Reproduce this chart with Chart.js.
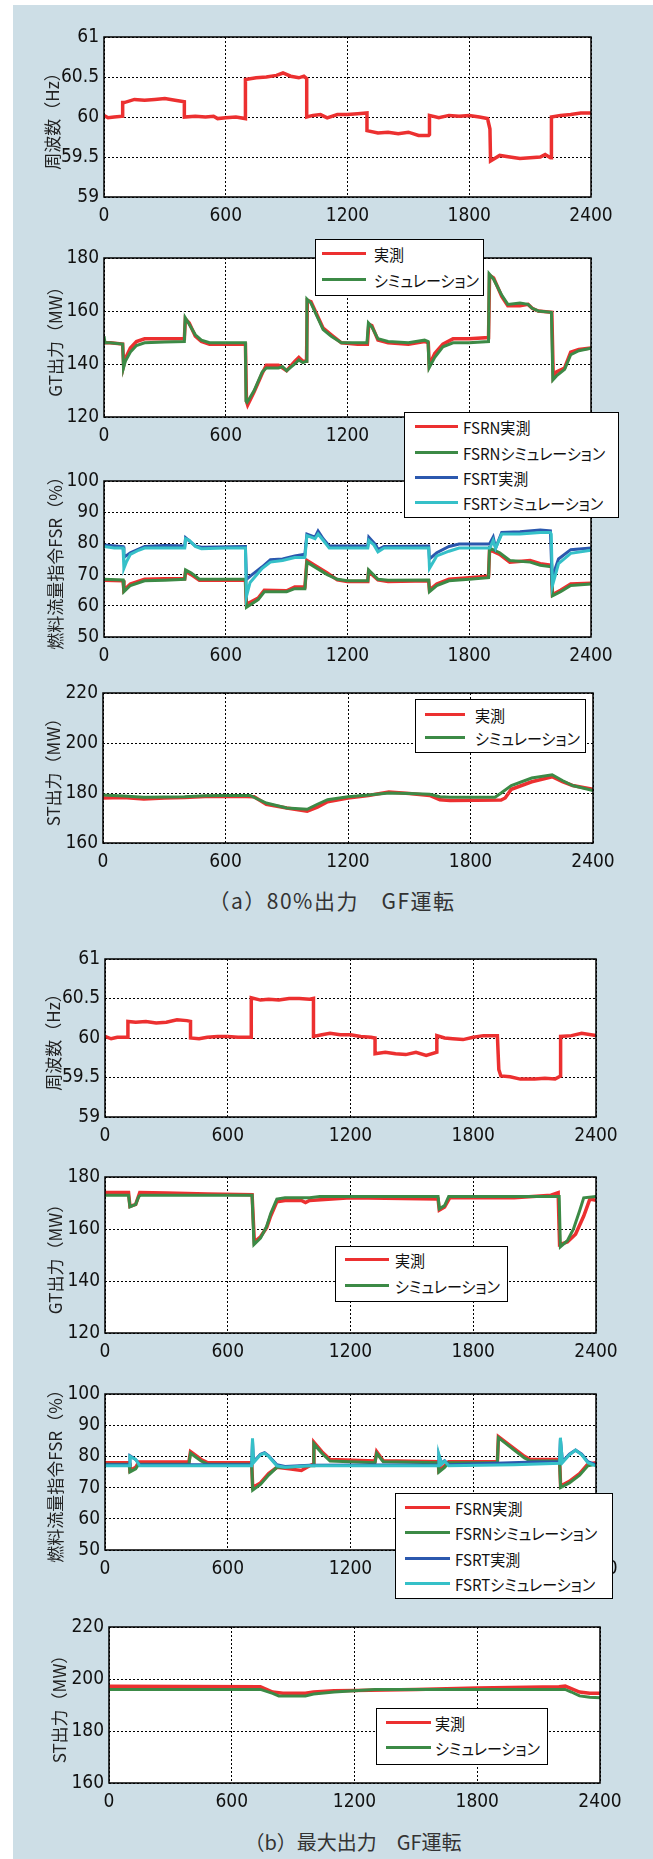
<!DOCTYPE html>
<html>
<head>
<meta charset="utf-8">
<script src="https://cdn.jsdelivr.net/npm/chart.js@4"></script>
<style>
body{margin:0;background:#fff;width:653px;height:1859px;position:relative;overflow:hidden;font-family:"Noto Sans CJK JP",sans-serif;}
#bg{position:absolute;left:13px;top:5px;width:640px;height:1854px;background:#cddee6;}
canvas{position:absolute;left:0;}
.lg{position:absolute;background:#fff;border:1.5px solid #000;box-sizing:border-box;z-index:5;}
.lg .ln{position:absolute;height:3px;}
.lg .tx{position:absolute;font-size:16px;line-height:20px;white-space:nowrap;transform:scaleX(.94);transform-origin:left center;font-feature-settings:"palt";color:#111;}
.cap{position:absolute;width:400px;text-align:center;line-height:28px;color:#333;white-space:nowrap;}
</style>
</head>
<body>
<div id="bg"></div>
<div class="cap" style="left:132px;top:886px;font-size:21px;letter-spacing:1.5px">（a）80%出力　GF運転</div>
<div class="cap" style="left:153px;top:1828px;font-size:20px">（b）最大出力　GF運転</div>
<script>
// axis ticks
const xTicks = [0, 600, 1200, 1800, 2400];
const freqTicks = [59, 59.5, 60, 60.5, 61];
const gtTicks = [120, 140, 160, 180];
const fsrTicks = [50, 60, 70, 80, 90, 100];
const stTicks = [160, 180, 200, 220];

// (a) 80%出力 GF運転  -- [時間(s), 値]
const freqA = [[0,60.02],[20,59.99],[50,60.0],[92,60.01],[92,60.18],[100,60.18],[150,60.22],[200,60.21],[250,60.22],[300,60.23],[350,60.21],[396,60.19],[396,60.0],[450,60.01],[500,60.0],[540,60.01],[560,59.98],[600,59.99],[650,60.0],[697,59.98],[697,60.47],[750,60.49],[800,60.5],[850,60.52],[882,60.55],[920,60.51],[960,60.49],[985,60.51],[999,60.48],[999,60.0],[1030,60.02],[1067,60.03],[1100,59.99],[1150,60.03],[1200,60.03],[1250,60.04],[1296,60.05],[1296,59.83],[1350,59.8],[1400,59.81],[1450,59.79],[1500,59.81],[1550,59.77],[1600,59.77],[1604,59.78],[1604,60.02],[1650,59.99],[1700,60.02],[1750,60.01],[1800,60.02],[1850,60.0],[1890,59.98],[1902,59.85],[1905,59.45],[1950,59.52],[2000,59.5],[2050,59.48],[2100,59.49],[2150,59.5],[2174,59.53],[2200,59.49],[2205,59.49],[2205,60.0],[2250,60.02],[2300,60.03],[2350,60.05],[2400,60.05]];

const gtA_act = [[0,148],[30,148],[92,147.5],[97,139.5],[105,142],[130,146],[160,148.5],[200,149.5],[300,149.5],[396,149.5],[401,157],[420,155.5],[450,150.5],[480,148.5],[520,147.5],[600,147.5],[697,147.5],[702,126],[708,124.5],[740,129.5],[780,136.5],[800,139.5],[860,139.5],[900,137.5],[940,141],[960,142.5],[980,141],[998,141],[1002,164],[1020,163.5],[1050,158.5],[1080,153.5],[1120,151],[1170,148],[1250,147.5],[1298,147.5],[1305,155],[1320,154.5],[1350,149],[1400,148],[1500,147.5],[1580,148.5],[1598,148],[1603,139.5],[1630,144],[1670,147.5],[1720,149.5],[1800,149.5],[1895,150],[1900,173.5],[1920,172.5],[1960,165.5],[1990,162],[2050,162],[2090,162.5],[2110,161],[2140,160],[2207,159.5],[2214,135],[2230,137],[2270,138.5],[2300,144.5],[2340,145.5],[2400,146]];
const gtA_sim = [[0,150.5],[5,148],[30,148],[92,147.5],[96,138.5],[105,141],[130,144.5],[160,147],[200,148],[300,148.3],[396,148.5],[400,157.5],[420,155],[450,151],[480,149],[520,148],[600,148],[697,148],[700,126],[705,125.5],[740,130],[780,137],[800,138.5],[860,138.5],[880,139],[900,137.5],[940,140],[960,141.5],[980,140.5],[998,141],[1000,164.5],[1020,163],[1050,158],[1080,153],[1120,150.5],[1170,148],[1250,148],[1296,148],[1303,155.5],[1320,154],[1350,149.5],[1400,148.5],[1500,148],[1580,149],[1597,148.5],[1602,138.5],[1630,142.5],[1670,146.5],[1720,148],[1800,148],[1895,148.5],[1898,174],[1920,172],[1960,166],[1990,162.5],[2050,163],[2090,162.5],[2110,161],[2140,160],[2205,159.5],[2212,134],[2230,135.5],[2270,138],[2300,143.5],[2340,145],[2400,146]];

const fsrnA_act = [[0,68.2],[94,68],[98,65],[130,67],[200,68.5],[300,68.7],[398,68.7],[402,71],[430,70],[470,68.2],[697,68.2],[702,60.5],[760,62.5],[790,65],[900,64.8],[940,66],[990,66],[1000,74.5],[1050,72.5],[1100,70.5],[1150,68.3],[1200,67.8],[1300,67.8],[1304,71],[1350,68.3],[1400,67.8],[1600,68],[1604,65],[1640,67],[1700,68.5],[1800,69],[1895,69.5],[1900,78],[1950,76.5],[2000,74],[2100,74.5],[2150,73.5],[2205,73],[2210,63.5],[2250,65],[2300,67],[2400,67.2]];
const fsrnA_sim = [[0,68.5],[94,68.3],[98,64.5],[130,66.5],[200,68],[300,68.2],[398,68.5],[402,71.5],[430,70.5],[470,68.5],[697,68.5],[702,59.5],[760,62],[790,64.5],[900,64.5],[940,65.5],[990,65.5],[1000,74],[1050,72],[1100,70],[1150,68.5],[1200,68],[1300,68],[1304,71.5],[1350,68.5],[1400,68.2],[1600,68.3],[1604,64.5],[1640,66.5],[1700,68],[1800,68.5],[1895,69],[1900,78.5],[1950,77],[2000,74.5],[2100,74],[2150,73],[2205,72.5],[2210,63.2],[2250,64.5],[2300,66.5],[2400,67]];
const fsrtA_act = [[0,79.5],[94,79],[98,75.5],[130,77],[200,79],[300,79.3],[398,79.2],[402,81.8],[450,79.2],[480,78.8],[697,79],[702,68.5],[730,70],[780,72.5],[820,74.8],[880,75],[940,76],[990,76.5],[1000,83],[1020,82.5],[1040,82],[1055,84],[1080,81.5],[1110,79.2],[1300,79.2],[1305,82],[1340,79.5],[1350,78],[1380,79],[1600,79.2],[1604,75],[1640,77],[1700,79],[1750,79.8],[1900,79.8],[1918,82],[1930,78.5],[1960,83.5],[2050,83.7],[2150,84.3],[2200,84],[2208,69],[2240,75],[2300,78],[2400,78.5]];
const fsrtA_sim = [[0,79],[50,78.5],[94,78.5],[98,72],[110,74],[130,76.5],[170,77.8],[200,78.5],[300,78.5],[398,78.5],[402,81.5],[420,81],[450,79],[480,78.3],[600,78.5],[697,78.5],[702,63],[720,67.5],[780,72],[820,74],[880,74.5],[940,75.5],[990,75.5],[1000,82.5],[1020,82],[1040,81.5],[1055,83],[1080,81],[1110,78.5],[1200,78.5],[1300,78.5],[1305,81],[1330,79.5],[1350,77.3],[1380,78.5],[1500,78.5],[1600,78.5],[1604,72],[1640,76],[1700,77.5],[1750,78.5],[1900,78.5],[1905,79],[1918,81],[1930,78.5],[1960,83],[2050,83],[2150,83.5],[2200,83.5],[2204,83],[2210,66.5],[2240,73.5],[2300,76.8],[2400,77.8]];

const stA_act = [[0,178],[100,178.2],[200,177.6],[300,178],[400,178.2],[500,178.6],[700,178.6],[740,178.5],[800,175.5],[900,174],[1000,172.7],[1050,174.3],[1100,176.5],[1200,178],[1300,179],[1400,180.4],[1500,179.8],[1600,179],[1650,177.3],[1700,177],[1950,177.2],[1970,178],[2000,181.5],[2100,184.5],[2200,186.5],[2250,184.5],[2300,183],[2400,181.5]];
const stA_sim = [[0,179.2],[100,178.8],[200,178.3],[400,178.5],[500,178.9],[600,179],[720,179],[800,176],[900,174],[1000,173.5],[1050,175.5],[1100,177.3],[1200,178.5],[1300,179.2],[1400,180],[1500,179.8],[1600,179.5],[1650,178.5],[1700,178.3],[1920,178.3],[1950,180],[2000,183],[2100,186],[2200,187.3],[2250,185],[2300,183],[2400,181]];

// (b) 最大出力 GF運転
const freqB = [[0,60.02],[30,59.99],[60,60.01],[112,60.01],[112,60.21],[150,60.2],[200,60.21],[250,60.19],[300,60.2],[352,60.23],[400,60.22],[418,60.21],[418,60.0],[460,59.99],[500,60.01],[550,60.02],[600,60.02],[650,60.01],[715,60.01],[715,60.51],[760,60.48],[800,60.49],[850,60.48],[900,60.5],[950,60.5],[1000,60.49],[1019,60.5],[1019,60.02],[1060,60.04],[1100,60.06],[1150,60.04],[1200,60.04],[1250,60.02],[1300,60.01],[1320,60.0],[1320,59.8],[1370,59.82],[1420,59.8],[1470,59.79],[1520,59.82],[1570,59.78],[1622,59.82],[1622,60.03],[1660,60.0],[1700,59.99],[1750,59.98],[1800,60.01],[1850,60.03],[1918,60.03],[1925,59.6],[1935,59.52],[1980,59.51],[2030,59.48],[2100,59.48],[2150,59.49],[2200,59.48],[2227,59.52],[2227,60.02],[2280,60.03],[2330,60.06],[2400,60.03]];

const gtB_act = [[0,174],[115,174],[122,168.7],[150,169.5],[170,174],[300,173.8],[500,173.5],[719,173.2],[730,155],[760,157],[790,160.5],[810,165],[840,170.5],[880,171],[960,171],[980,170.2],[1000,171],[1200,172],[1628,171.5],[1634,167.3],[1660,168.5],[1685,172],[2000,172],[2180,173],[2215,174],[2222,154],[2260,155],[2300,158],[2340,165],[2370,171.5],[2400,171]];
const gtB_sim = [[0,173],[115,173],[122,168.5],[150,169.5],[165,172.5],[175,173],[400,173],[719,173],[728,154],[760,156.5],[790,161],[810,166],[840,171.5],[880,172],[1000,172],[1050,172.5],[1628,172.5],[1634,167.8],[1660,169],[1680,172.5],[1800,172.5],[2220,172.5],[2226,153.2],[2260,155.5],[2290,160],[2320,167],[2340,172],[2400,172.5]];

const fsrnB_act = [[0,78],[118,78],[122,75.5],[150,76.5],[165,78.2],[410,78.2],[418,81.5],[470,79],[500,78],[717,78],[722,70],[760,71.5],[800,74.5],[840,76.5],[900,76],[960,75.5],[1000,77],[1017,77.5],[1021,84.5],[1060,81.5],[1100,79],[1320,78.5],[1328,81.5],[1360,78.6],[1628,78.3],[1632,75.5],[1660,77],[1680,78.3],[1918,78.3],[1923,86.3],[2000,82.5],[2050,80],[2080,79],[2222,79],[2227,70.5],[2270,72],[2320,74.5],[2360,77.5],[2400,78]];
const fsrnB_sim = [[0,77.5],[118,77.5],[122,75],[150,76],[165,77.5],[410,77.5],[418,81],[470,78.5],[500,77.5],[717,77.5],[722,69.2],[760,71],[800,74],[840,76.5],[880,76.5],[1000,77],[1017,77],[1021,84],[1060,81],[1100,78.5],[1320,78],[1328,81],[1360,78.3],[1628,78],[1632,75],[1660,76.5],[1680,78],[1918,78],[1923,86],[2000,82],[2050,79.5],[2080,78.5],[2222,78.5],[2227,70],[2270,71.5],[2320,74],[2360,77],[2400,77.5]];
const fsrtB_act = [[0,77.3],[118,77.3],[122,80.2],[150,79],[170,77.3],[717,77.3],[721,85],[726,78.3],[760,80.7],[780,81.2],[800,80.2],[840,77.3],[880,76.8],[1000,77.2],[1628,77.3],[1632,80.3],[1645,77.8],[1660,78.6],[1680,77.3],[2100,78.2],[2222,78.3],[2226,85.5],[2236,78.3],[2270,80.7],[2300,82],[2330,80.7],[2360,78.3],[2400,77.3]];
const fsrtB_sim = [[0,77],[118,77],[122,80],[150,79],[170,77],[717,77],[721,85.8],[726,78],[760,80.5],[780,81],[800,80],[840,77],[880,76.5],[1000,77],[1628,77],[1632,80.6],[1645,77.5],[1660,78.5],[1680,77],[2000,77.3],[2222,77.8],[2226,86],[2236,78],[2270,80.5],[2300,82],[2330,80.5],[2360,78],[2400,77]];

const stB_act = [[0,197.2],[740,197],[800,195],[850,194.5],[960,194.5],[1000,195],[1100,195.5],[1200,195.6],[1500,196],[1800,196.5],[2200,197],[2230,197.3],[2300,195],[2350,194.5],[2400,194.5]];
const stB_sim = [[0,196],[740,196],[800,194.5],[830,193.5],[960,193.5],[1000,194.2],[1100,195],[1200,195.5],[1300,196],[2230,196],[2260,195],[2300,193.5],[2350,193],[2400,192.8]];

const RED = '#ec3030', GREEN = '#3c8a46', BLUE = '#2b58ae', CYAN = '#35c0c8';
const tickFont = { family: "'Liberation Sans Narrow','DejaVu Sans Condensed','Liberation Sans',sans-serif", size: 19 };
const titleFont = { family: "'Noto Sans CJK JP',sans-serif", size: 17 };

const framePlugin = {
  id: 'frame',
  beforeDraw(c) {
    const a = c.chartArea, ctx = c.ctx;
    ctx.save(); ctx.fillStyle = '#fff'; ctx.fillRect(a.left, a.top, a.width, a.height); ctx.restore();
  },
  afterDraw(c) {
    const a = c.chartArea, ctx = c.ctx;
    ctx.save(); ctx.strokeStyle = '#000'; ctx.lineWidth = 1.5;
    ctx.strokeRect(a.left, a.top, a.width, a.height); ctx.restore();
  }
};

function panel(box, yTicks, yTitle, titleX, series) {
  const padTop = 14, xH = 36;
  const cv = document.createElement('canvas');
  cv.width = 653;
  cv.height = box.B - box.T + padTop + xH;
  cv.style.top = (box.T - padTop) + 'px';
  document.body.appendChild(cv);
  new Chart(cv, {
    type: 'line',
    data: {
      // later series are drawn on top (実測 first, シミュレーション over it)
      datasets: series.map((s, i) => ({
        data: s[0].map(p => ({ x: p[0], y: p[1] })),
        borderColor: s[1], borderWidth: s[1] === RED ? 3.5 : 3,
        order: series.length - i,
        pointRadius: 0, tension: 0, fill: false
      }))
    },
    options: {
      responsive: false, animation: false, events: [],
      layout: { padding: { top: padTop, right: 653 - box.R, left: 0, bottom: 0 } },
      plugins: { legend: { display: false }, tooltip: { enabled: false } },
      scales: {
        x: {
          type: 'linear', min: 0, max: 2400,
          afterBuildTicks: s => { s.ticks = xTicks.map(v => ({ value: v })); },
          afterFit: s => { s.height = xH; s.paddingLeft = 0; s.paddingRight = 0; },
          grid: { color: '#000', lineWidth: 1, drawTicks: false },
          border: { display: false, dash: [2, 2] },
          ticks: { color: '#111', padding: 8, font: tickFont, maxRotation: 0, autoSkip: false, callback: v => String(v) }
        },
        y: {
          min: yTicks[0], max: yTicks[yTicks.length - 1],
          afterBuildTicks: s => { s.ticks = yTicks.map(v => ({ value: v })); },
          afterFit: s => { s.width = box.L; s.paddingTop = 0; s.paddingBottom = 0; },
          grid: { color: '#000', lineWidth: 1, drawTicks: false },
          border: { display: false, dash: [2, 2] },
          ticks: { color: '#111', padding: 5, font: tickFont, callback: v => String(v) },
          title: { display: true, text: yTitle, color: '#222', font: titleFont, padding: { top: titleX - 10.2, bottom: 0 } }
        }
      }
    },
    plugins: [framePlugin]
  });
}

function legend(b, items) {
  const d = document.createElement('div');
  d.className = 'lg';
  d.style.left = b.x + 'px'; d.style.top = b.y + 'px';
  d.style.width = b.w + 'px'; d.style.height = b.h + 'px';
  items.forEach((it, i) => {
    const cy = b.rows[i] - b.y - 1.5;
    const ln = document.createElement('div');
    ln.className = 'ln';
    ln.style.left = (b.l1 - b.x - 1.5) + 'px'; ln.style.width = (b.l2 - b.l1) + 'px';
    ln.style.top = (cy - 1.5) + 'px'; ln.style.background = it[1];
    const tx = document.createElement('div');
    tx.className = 'tx';
    tx.style.left = (b.tx - b.x - 1.5) + 'px'; tx.style.top = (cy - 10) + 'px';
    tx.textContent = it[0];
    d.appendChild(ln); d.appendChild(tx);
  });
  document.body.appendChild(d);
}

const actSim = [['実測', RED], ['シミュレーション', GREEN]];
const fsrItems = [['FSRN実測', RED], ['FSRNシミュレーション', GREEN], ['FSRT実測', BLUE], ['FSRTシミュレーション', CYAN]];

// (a)
panel({ L: 104, R: 591, T: 37, B: 197 }, freqTicks, '周波数（Hz）', 53, [[freqA, RED]]);
panel({ L: 104, R: 591, T: 258, B: 417 }, gtTicks, 'GT出力（MW）', 56, [[gtA_act, RED], [gtA_sim, GREEN]]);
panel({ L: 104, R: 591, T: 481, B: 637 }, fsrTicks, '燃料流量指令FSR（%）', 56,
  [[fsrnA_act, RED], [fsrnA_sim, GREEN], [fsrtA_act, BLUE], [fsrtA_sim, CYAN]]);
panel({ L: 103, R: 593, T: 693, B: 843 }, stTicks, 'ST出力（MW）', 54, [[stA_act, RED], [stA_sim, GREEN]]);
// (b)
panel({ L: 105, R: 596, T: 959, B: 1117 }, freqTicks, '周波数（Hz）', 54, [[freqB, RED]]);
panel({ L: 105, R: 596, T: 1177, B: 1333 }, gtTicks, 'GT出力（MW）', 56, [[gtB_act, RED], [gtB_sim, GREEN]]);
panel({ L: 105, R: 596, T: 1394, B: 1550 }, fsrTicks, '燃料流量指令FSR（%）', 56,
  [[fsrnB_act, RED], [fsrnB_sim, GREEN], [fsrtB_act, BLUE], [fsrtB_sim, CYAN]]);
panel({ L: 109, R: 600, T: 1627, B: 1783 }, stTicks, 'ST出力（MW）', 60, [[stB_act, RED], [stB_sim, GREEN]]);

legend({ x: 315, y: 239, w: 169, h: 57, l1: 322, l2: 366, tx: 374, rows: [254, 280] }, actSim);
legend({ x: 404, y: 412, w: 215, h: 106, l1: 415, l2: 458, tx: 463, rows: [427, 453, 478, 503] }, fsrItems);
legend({ x: 415, y: 699, w: 171, h: 54, l1: 425, l2: 465, tx: 475, rows: [715, 738] }, actSim);
legend({ x: 335, y: 1246, w: 173, h: 56, l1: 345, l2: 389, tx: 395, rows: [1260, 1286] }, actSim);
legend({ x: 395, y: 1493, w: 218, h: 106, l1: 405, l2: 450, tx: 455, rows: [1508, 1533, 1559, 1584] }, fsrItems);
legend({ x: 376, y: 1708, w: 172, h: 57, l1: 386, l2: 431, tx: 435, rows: [1723, 1748] }, actSim);
</script>
</body>
</html>
